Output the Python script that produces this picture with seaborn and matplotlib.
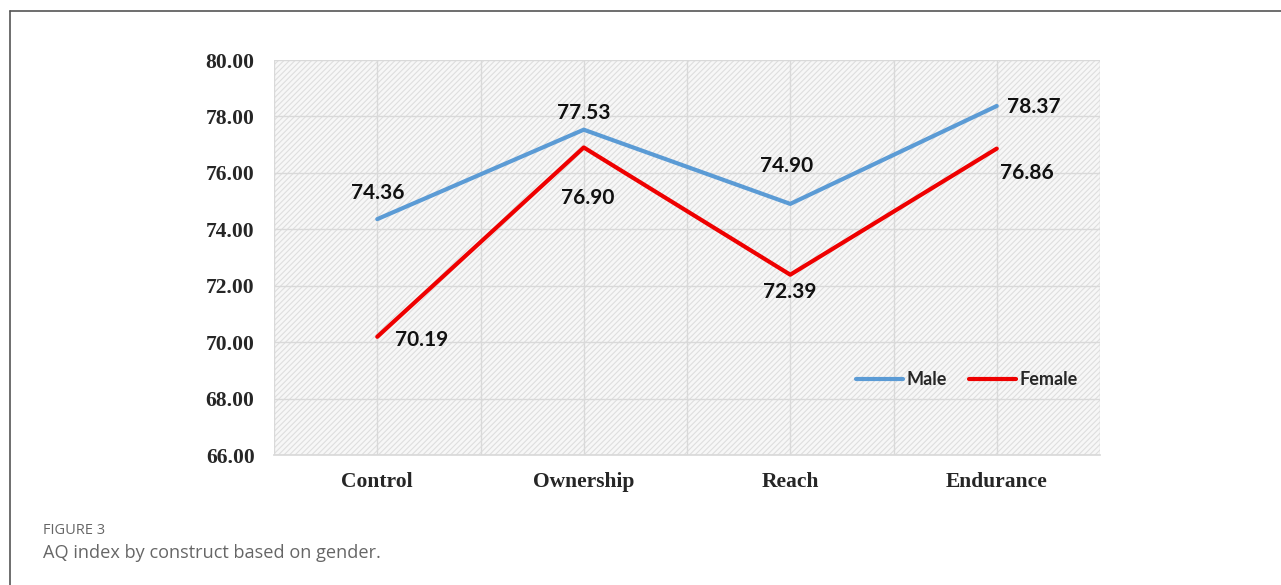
import matplotlib
matplotlib.use("Agg")
import matplotlib.pyplot as plt
import seaborn as sns
import pandas as pd
from matplotlib.patches import Rectangle
from matplotlib.lines import Line2D

# data
constructs = ["Control", "Ownership", "Reach", "Endurance"]
male = [74.36, 77.53, 74.90, 78.37]
female = [70.19, 76.90, 72.39, 76.86]
y_ticks = [66, 68, 70, 72, 74, 76, 78, 80]

df = pd.DataFrame({
    "construct": constructs * 2,
    "value": male + female,
    "gender": ["Male"] * 4 + ["Female"] * 4,
})

sns.set_theme(style="white")
plt.rcParams["font.family"] = ["Liberation Serif", "DejaVu Serif"]

W, H = 1281, 585
fig = plt.figure(figsize=(W / 100, H / 100), dpi=100)
ax = fig.add_axes([274 / W, 1 - 455 / H, 826 / W, 395 / H])

# hatched background
ax.set_facecolor("#f7f7f7")
plt.rcParams["hatch.linewidth"] = 0.8
ax.add_patch(Rectangle((0, 0), 1, 1, transform=ax.transAxes, facecolor="none",
                       edgecolor="#dedede", hatch="//////", lw=0, zorder=0))

sns.lineplot(data=df, x="construct", y="value", hue="gender",
             palette={"Male": "#5b9bd5", "Female": "#ee0000"},
             linewidth=3, ax=ax, zorder=3, sort=False)

ax.set_xlim(-0.5, 3.5)
ax.set_ylim(66, 80)
ax.set_yticks(y_ticks)
ax.set_yticklabels([f"{v:.2f}" for v in y_ticks])
ax.set_xticks([-0.5, 0, 0.5, 1, 1.5, 2, 2.5, 3, 3.5])
ax.set_xticklabels(["", "Control", "", "Ownership", "", "Reach", "", "Endurance", ""])
ax.grid(True, color="#d9d9d9", lw=1, zorder=1)
ax.set_axisbelow(True)
for s in ax.spines.values():
    s.set_visible(False)
ax.spines["bottom"].set_visible(True)
ax.spines["bottom"].set_color("#d9d9d9")
ax.tick_params(length=0, labelsize=15.5, pad=12)
ax.tick_params(axis="y", pad=14)
for t in ax.get_xticklabels() + ax.get_yticklabels():
    t.set_fontweight("bold")
ax.set_xlabel("")
ax.set_ylabel("")

# data labels (offsets in pixels from the point)
lab = dict(fontsize=15, fontweight="bold", family=["Lato", "DejaVu Sans"], color="#111111")
male_off = [(1, 26, "center"), (0, 17, "center"), (-4, 38, "center"), (10, -1, "left")]
female_off = [(18, -3, "left"), (4, -51, "center"), (0, -17, "center"), (3, -24, "left")]
for vals, offs in [(male, male_off), (female, female_off)]:
    for i, (v, (dx, dy, ha)) in enumerate(zip(vals, offs)):
        ax.annotate(f"{v:.2f}", (i, v), xytext=(dx, dy), textcoords="offset pixels",
                    ha=ha, va="center", zorder=5, **lab)

ax.legend(loc="center", bbox_to_anchor=(0.839, 0.19), ncol=2, frameon=False,
          handlelength=2.6, handletextpad=0.2, columnspacing=1.2,
          prop={"family": ["Lato", "DejaVu Sans"], "weight": "bold", "size": 13})

# outer frame
fig.add_artist(Line2D([10 / W, 1], [1 - 11 / H, 1 - 11 / H], color="#555555", lw=1.2))
fig.add_artist(Line2D([10 / W, 10 / W], [0, 1 - 11 / H], color="#555555", lw=1.2))

# caption
fig.text(43 / W, 1 - 531 / H, "FIGURE 3", fontsize=10.5, color="#666666",
         family=["Open Sans", "DejaVu Sans"], va="center")
fig.text(43 / W, 1 - 553 / H, "AQ index by construct based on gender.", fontsize=13.1,
         color="#666666", family=["Open Sans", "DejaVu Sans"], va="center")

fig.savefig("out.png", dpi=100)
